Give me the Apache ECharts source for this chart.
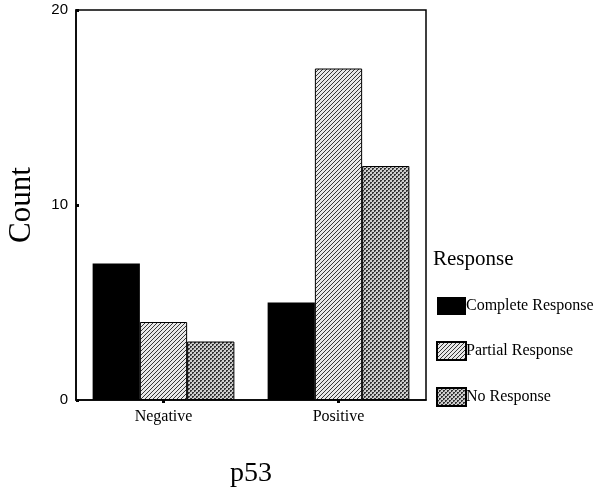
<!DOCTYPE html>
<html><head><meta charset="utf-8">
<script src="https://cdn.jsdelivr.net/npm/echarts@6/dist/echarts.min.js"></script>
<style>html,body{margin:0;padding:0;background:#fff}#c{width:597px;height:488px}</style>
</head><body><div id="c"></div>
<script>
const categories = ['Negative', 'Positive'];
const seriesNames = ['Complete Response', 'Partial Response', 'No Response'];
const completeResponse = [7, 5];
const partialResponse = [4, 17];
const noResponse = [3, 12];
const yTicks = [0, 10, 20];

function hatchPattern() {
  const c = document.createElement('canvas'); c.width = 4; c.height = 4;
  const g = c.getContext('2d');
  g.fillStyle = '#e8e8e8'; g.fillRect(0, 0, 4, 4);
  g.strokeStyle = '#222'; g.lineWidth = 0.9;
  g.beginPath();
  g.moveTo(-1, 5); g.lineTo(5, -1);
  g.moveTo(-1, 1); g.lineTo(1, -1);
  g.moveTo(3, 5); g.lineTo(5, 3);
  g.stroke();
  return c;
}
function crossPattern() {
  const c = document.createElement('canvas'); c.width = 4; c.height = 4;
  const g = c.getContext('2d');
  g.fillStyle = '#d0d0d0'; g.fillRect(0, 0, 4, 4);
  g.fillStyle = '#333';
  g.fillRect(0, 0, 2, 2); g.fillRect(2, 2, 2, 2);
  g.fillStyle = '#999';
  g.fillRect(1, 1, 1, 1); g.fillRect(3, 3, 1, 1);
  return c;
}
const fills = [
  '#000',
  { image: hatchPattern(), repeat: 'repeat' },
  { image: crossPattern(), repeat: 'repeat' }
];
const dataArr = [completeResponse, partialResponse, noResponse];
const serif = '"Liberation Serif", "DejaVu Serif", serif';
const sans = '"Liberation Sans", Arial, sans-serif';

const chart = echarts.init(document.getElementById('c'), null, { renderer: 'canvas' });
chart.setOption({
  animation: false,
  backgroundColor: '#fff',
  grid: { left: 76, top: 10, right: 171, bottom: 88, containLabel: false, outerBoundsMode: 'none',
    show: true, borderColor: '#000', borderWidth: 1.5, backgroundColor: 'transparent' },
  xAxis: {
    type: 'category', data: categories,
    axisLine: { lineStyle: { color: '#000', width: 1.5 } },
    axisTick: { show: true, alignWithLabel: true, length: 3, lineStyle: { color: '#000', width: 3 } },
    axisLabel: { fontFamily: serif, fontSize: 16, color: '#000', margin: 9 },
    name: 'p53', nameLocation: 'middle', nameGap: 60,
    nameTextStyle: { fontFamily: serif, fontSize: 28, color: '#000' }
  },
  yAxis: {
    type: 'value', min: 0, max: 20, interval: 10,
    axisLine: { show: true, lineStyle: { color: '#000', width: 1.5 } },
    axisTick: { show: true, inside: true, length: 3, lineStyle: { color: '#000', width: 3 } },
    splitLine: { show: false },
    axisLabel: { fontFamily: sans, fontSize: 15, color: '#000', margin: 8,
      formatter: v => yTicks.includes(v) ? String(v) : '' },
    name: 'Count', nameLocation: 'middle', nameGap: 39, nameRotate: 90,
    nameTextStyle: { fontFamily: serif, fontSize: 31, color: '#000' }
  },
  legend: {
    left: 436, top: 297, orient: 'vertical', itemWidth: 29, itemHeight: 18, itemGap: 26, padding: 0,
    textStyle: { fontFamily: serif, fontSize: 16, color: '#000', padding: [0, 0, 0, -5] },
    icon: 'rect',
    data: seriesNames
  },
  graphic: [{
    type: 'text', left: 433, top: 249,
    style: { text: 'Response', font: '21px ' + serif, fill: '#000' }
  }],
  series: seriesNames.map((n, i) => ({
    name: n, type: 'bar', data: dataArr[i],
    barGap: '0%', barCategoryGap: '19%',
    itemStyle: { color: fills[i], borderColor: '#000', borderWidth: i === 0 ? 0 : 1 }
  }))
});
</script></body></html>
